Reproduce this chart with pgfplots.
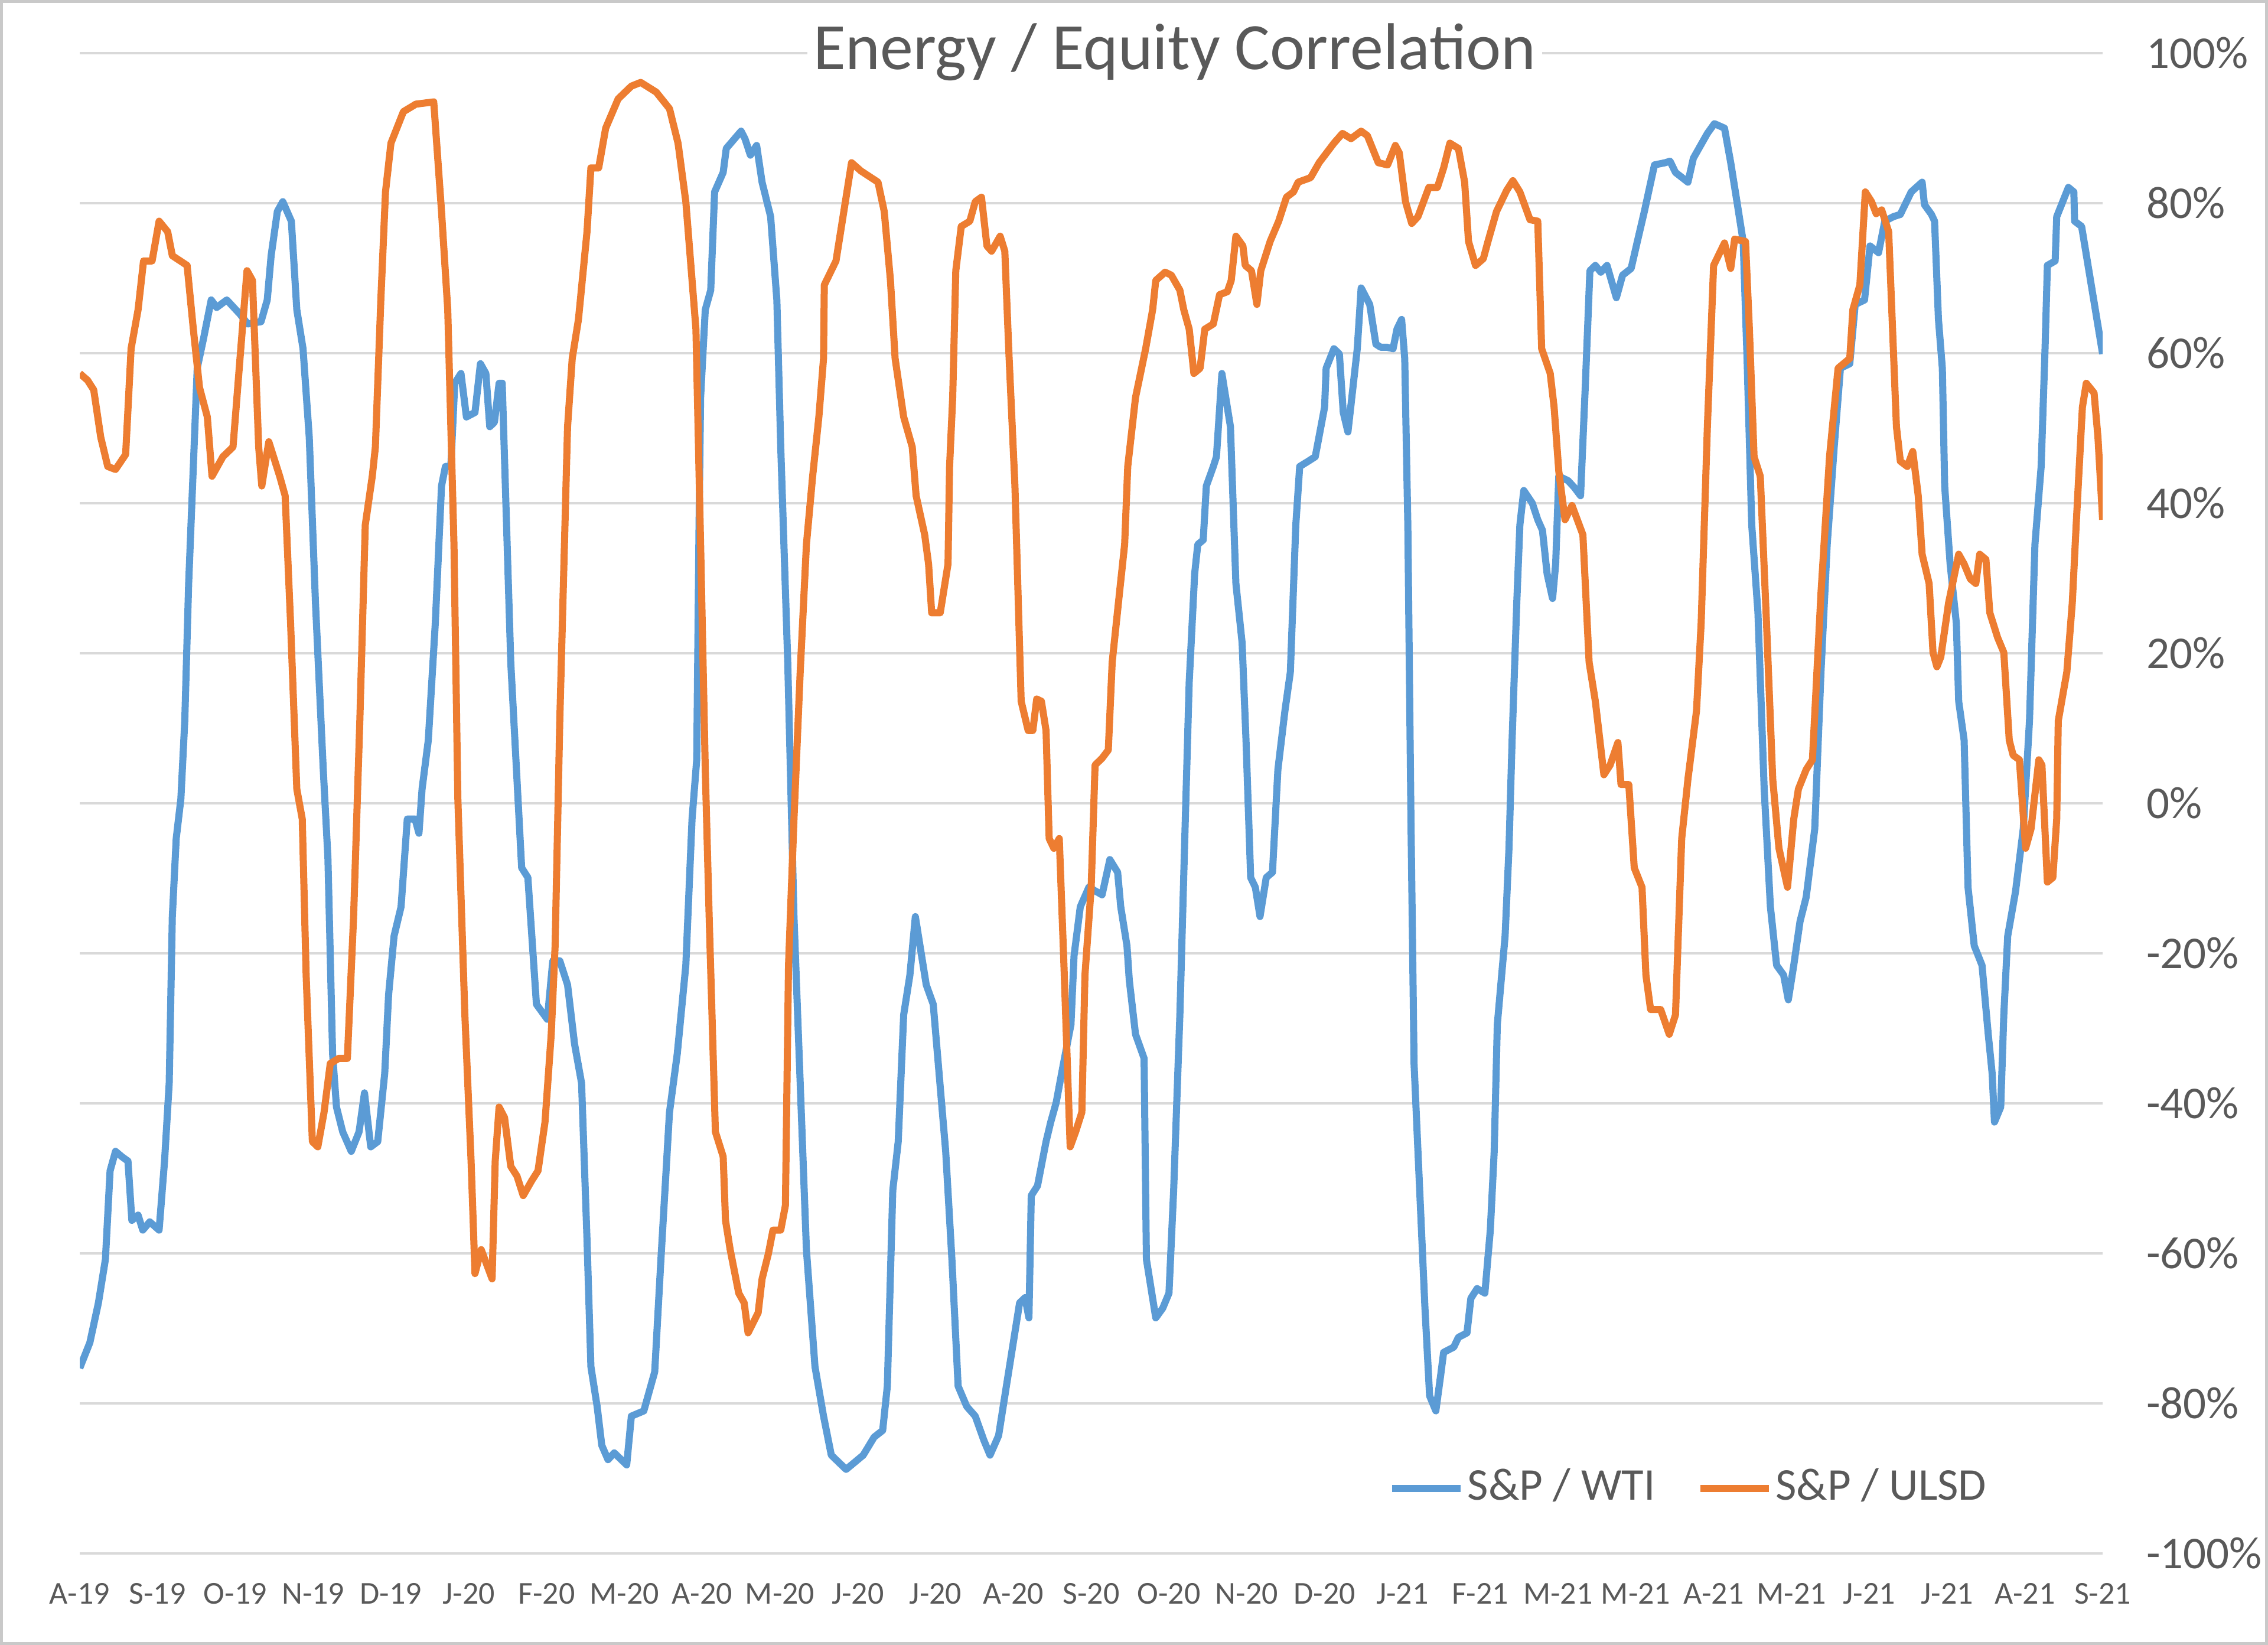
\documentclass[border=0pt]{standalone}
\usepackage{fontspec}
\setmainfont{Carlito}
\usepackage{pgfplots}
\pgfplotsset{compat=1.18}
\definecolor{wtiblue}{HTML}{5B9BD5}
\definecolor{ulsdorange}{HTML}{ED7D31}
\definecolor{txtgray}{HTML}{595959}
\definecolor{gridgray}{HTML}{D9D9D9}
\definecolor{framegray}{HTML}{C9C9C9}
\begin{document}
\begin{tikzpicture}
\path[use as bounding box] (0,0) rectangle (384pt,278.5pt);
\draw[framegray, line width=0.5pt] (0.25pt,0.25pt) rectangle (383.75pt,278.25pt);
\begin{axis}[
  at={(13.5pt,15.5pt)}, anchor=south west,
  scale only axis, width=342.5pt, height=254pt,
  xmin=0, xmax=26, ymin=-100, ymax=100,
  axis line style={draw=none},
  major tick length=0pt,
  xtick={0,...,26},
  xticklabels={A-19,S-19,O-19,N-19,D-19,J-20,F-20,M-20,A-20,M-20,J-20,J-20,A-20,S-20,O-20,N-20,D-20,J-21,F-21,M-21,M-21,A-21,M-21,J-21,J-21,A-21,S-21},
  ytick={-100,-80,-60,-40,-20,0,20,40,60,80,100},
  yticklabels={-100\%,-80\%,-60\%,-40\%,-20\%,0\%,20\%,40\%,60\%,80\%,100\%},
  yticklabel pos=right,
  ymajorgrids, grid style={gridgray, line width=0.4pt},
  xticklabel style={font=\fontsize{5.4}{6}\selectfont, text=txtgray, anchor=north, inner sep=0pt, yshift=-4.8pt},
  yticklabel style={font=\fontsize{7.7}{9}\selectfont, text=txtgray, anchor=west, inner sep=0pt, xshift=7.2pt},
  title={Energy / Equity Correlation},
  every axis title shift=0pt,
  title style={at={(0.5413,0.989)}, anchor=base, font=\fontsize{11.2}{13}\selectfont, text=txtgray, fill=white, inner sep=1pt},
  legend style={at={(0.6464,0.0433)}, anchor=west, draw=none, fill=none,
    font=\fontsize{7.7}{9}\selectfont, text=txtgray, inner sep=0pt,
    nodes={inner sep=0.6pt},
    /tikz/every even column/.append style={column sep=6.4pt}},
  legend columns=2,
  legend cell align=left,
  legend image code/.code={\draw[#1, line width=1.2pt] (0pt,0pt) -- (11.6pt,0pt);},
]
\addplot[wtiblue, line width=1.2pt, line join=round] table {
0.00 -75.3
0.13 -71.9
0.24 -66.6
0.33 -60.8
0.39 -49.0
0.46 -46.4
0.54 -47.1
0.62 -47.7
0.67 -55.6
0.75 -54.9
0.81 -56.9
0.90 -55.8
1.02 -56.9
1.09 -47.7
1.15 -37.3
1.19 -15.1
1.24 -4.7
1.30 0.6
1.35 11.0
1.40 29.3
1.46 44.9
1.51 58.0
1.59 61.9
1.69 67.1
1.76 66.1
1.89 67.1
2.06 65.2
2.16 63.9
2.33 64.2
2.41 67.1
2.46 73.0
2.54 78.9
2.61 80.2
2.72 77.6
2.79 65.8
2.87 60.6
2.95 48.8
3.03 26.7
3.13 4.5
3.19 -7.3
3.25 -33.4
3.30 -40.5
3.38 -43.8
3.49 -46.4
3.59 -43.8
3.66 -38.6
3.74 -45.8
3.83 -45.1
3.92 -36.0
3.97 -25.5
4.04 -17.7
4.13 -13.8
4.21 -2.1
4.31 -2.1
4.36 -4.0
4.40 1.9
4.48 8.4
4.57 24.0
4.65 42.3
4.70 44.9
4.77 44.9
4.82 56.0
4.90 57.3
4.97 51.5
5.08 52.1
5.15 58.6
5.22 57.3
5.27 50.2
5.33 50.8
5.39 56.0
5.43 56.0
5.54 18.8
5.68 -8.6
5.76 -9.9
5.87 -26.8
6.01 -28.8
6.08 -21.0
6.17 -21.0
6.27 -24.2
6.36 -32.1
6.45 -37.3
6.52 -58.2
6.57 -75.1
6.65 -80.4
6.71 -85.6
6.79 -87.5
6.87 -86.6
7.03 -88.2
7.09 -81.7
7.25 -81.0
7.39 -75.8
7.47 -60.8
7.58 -41.2
7.68 -33.4
7.79 -21.6
7.87 -2.1
7.93 5.8
7.96 37.1
7.98 54.1
8.04 65.8
8.11 68.4
8.16 81.5
8.27 84.1
8.31 87.3
8.50 89.6
8.55 88.6
8.62 86.4
8.70 87.7
8.77 82.8
8.88 78.2
8.96 67.1
9.01 47.5
9.10 18.8
9.18 -15.1
9.26 -37.3
9.34 -59.5
9.45 -75.1
9.56 -81.7
9.66 -86.9
9.85 -88.8
10.07 -86.9
10.21 -84.5
10.32 -83.6
10.38 -77.7
10.45 -51.6
10.52 -45.1
10.59 -28.2
10.67 -22.9
10.74 -15.1
10.80 -19.0
10.88 -24.2
10.97 -26.8
11.13 -46.4
11.21 -60.8
11.29 -77.7
11.40 -80.4
11.51 -81.7
11.62 -84.9
11.70 -86.9
11.81 -84.3
11.91 -77.7
12.08 -66.6
12.15 -65.9
12.20 -68.6
12.23 -52.3
12.31 -51.0
12.42 -45.1
12.48 -42.5
12.55 -39.9
12.62 -36.0
12.74 -29.5
12.78 -20.3
12.86 -13.8
12.97 -11.2
13.14 -12.2
13.24 -7.5
13.34 -9.2
13.38 -13.8
13.46 -19.0
13.49 -23.6
13.57 -30.8
13.68 -34.0
13.71 -60.8
13.83 -68.6
13.92 -67.3
14.00 -65.3
14.06 -51.6
14.14 -28.2
14.21 -2.1
14.26 16.2
14.33 30.6
14.37 34.5
14.44 35.1
14.48 42.3
14.57 44.9
14.61 46.2
14.68 57.3
14.79 50.2
14.86 29.3
14.94 21.4
14.99 8.4
15.05 -9.9
15.11 -11.2
15.17 -15.1
15.25 -9.9
15.33 -9.2
15.40 4.5
15.49 12.3
15.56 17.5
15.63 37.1
15.68 44.9
15.79 45.6
15.88 46.2
16.00 52.8
16.02 58.0
16.12 60.6
16.19 59.9
16.24 52.1
16.30 49.5
16.35 54.1
16.42 60.6
16.47 68.7
16.58 66.5
16.66 61.2
16.72 60.8
16.80 60.8
16.88 60.6
16.93 63.2
16.99 64.5
17.03 59.3
17.07 37.1
17.11 -2.1
17.15 -34.7
17.20 -46.4
17.29 -67.3
17.35 -79.0
17.43 -81.0
17.49 -76.4
17.53 -73.2
17.66 -72.5
17.72 -71.2
17.83 -70.6
17.88 -66.0
17.96 -64.7
18.06 -65.3
18.13 -56.9
18.18 -46.4
18.22 -29.5
18.32 -17.7
18.37 -6.0
18.41 8.4
18.47 26.7
18.51 37.1
18.56 41.7
18.67 40.0
18.74 37.8
18.80 36.4
18.86 30.6
18.93 27.3
18.97 31.9
19.01 43.6
19.13 43.0
19.21 42.1
19.29 41.0
19.35 55.4
19.41 71.0
19.48 71.7
19.55 70.8
19.63 71.7
19.75 67.4
19.83 70.4
19.94 71.3
20.02 74.9
20.11 78.9
20.24 85.1
20.38 85.4
20.44 85.6
20.51 84.1
20.67 82.8
20.74 86.0
20.92 89.3
21.01 90.6
21.14 90.0
21.22 85.4
21.30 80.2
21.38 74.9
21.43 59.3
21.49 37.1
21.57 25.4
21.65 1.9
21.73 -13.8
21.81 -21.6
21.90 -22.9
21.96 -26.2
22.03 -21.6
22.11 -15.8
22.19 -12.5
22.30 -3.4
22.38 17.5
22.46 34.5
22.55 47.5
22.63 58.0
22.75 58.6
22.82 66.5
22.94 67.1
23.01 74.3
23.12 73.4
23.20 77.6
23.31 78.2
23.40 78.5
23.54 81.5
23.68 82.8
23.71 79.8
23.80 78.5
23.84 77.6
23.89 64.5
23.94 58.0
23.97 42.3
24.04 31.9
24.12 24.0
24.15 13.6
24.22 8.4
24.27 -11.2
24.35 -19.0
24.45 -21.6
24.53 -30.8
24.58 -36.0
24.61 -42.5
24.69 -40.5
24.73 -28.2
24.78 -17.7
24.88 -11.8
24.98 -3.4
25.06 11.0
25.13 34.5
25.21 44.9
25.26 60.6
25.29 71.7
25.39 72.3
25.41 78.2
25.56 82.1
25.63 81.5
25.64 77.6
25.73 76.9
26.00 59.9
};
\addlegendentry{S\&P / WTI}
\addplot[ulsdorange, line width=1.2pt, line join=round] table {
0.00 57.3
0.10 56.4
0.18 55.1
0.27 48.8
0.36 44.9
0.46 44.5
0.59 46.5
0.66 60.6
0.75 65.8
0.82 72.3
0.93 72.3
1.02 77.6
1.13 76.2
1.19 73.0
1.38 71.7
1.46 63.2
1.54 55.4
1.64 51.5
1.70 43.6
1.84 46.2
1.97 47.5
2.06 59.3
2.15 71.0
2.22 69.7
2.30 47.5
2.34 42.3
2.43 48.2
2.57 43.6
2.64 41.0
2.71 24.0
2.79 1.9
2.86 -2.1
2.91 -22.9
2.99 -45.1
3.06 -45.8
3.14 -41.2
3.22 -34.7
3.33 -34.0
3.44 -34.0
3.52 -15.1
3.60 11.0
3.67 37.1
3.76 43.6
3.80 47.5
3.87 67.1
3.93 81.5
4.00 88.0
4.16 92.2
4.32 93.2
4.55 93.5
4.65 78.9
4.73 65.8
4.81 34.5
4.86 0.6
4.95 -28.2
5.03 -47.7
5.08 -62.7
5.16 -59.5
5.30 -63.4
5.34 -47.7
5.39 -40.5
5.46 -41.9
5.54 -48.4
5.62 -49.7
5.70 -52.3
5.81 -50.3
5.89 -49.0
5.98 -42.5
6.06 -30.8
6.11 -19.0
6.17 11.0
6.22 30.6
6.27 50.2
6.33 59.3
6.41 64.5
6.52 76.2
6.57 84.7
6.67 84.7
6.76 90.0
6.92 93.9
7.09 95.6
7.21 96.1
7.41 94.8
7.58 92.6
7.69 88.0
7.79 80.2
7.92 63.2
7.98 34.5
8.04 4.5
8.09 -15.1
8.17 -43.8
8.27 -47.1
8.30 -55.6
8.36 -59.5
8.47 -65.3
8.54 -66.6
8.59 -70.6
8.72 -67.9
8.77 -63.4
8.85 -60.1
8.91 -56.9
9.01 -56.9
9.07 -53.6
9.11 -21.6
9.18 -2.1
9.26 17.5
9.34 34.5
9.42 43.6
9.50 51.5
9.56 59.3
9.57 69.1
9.72 72.3
9.83 79.5
9.92 85.4
10.04 84.3
10.26 82.8
10.34 78.9
10.42 69.7
10.48 59.3
10.59 51.5
10.70 47.5
10.75 41.0
10.86 35.8
10.91 31.9
10.95 25.4
11.06 25.4
11.16 31.9
11.18 44.9
11.22 54.1
11.26 71.0
11.33 76.9
11.44 77.6
11.51 80.2
11.59 80.8
11.66 74.3
11.72 73.6
11.83 75.6
11.89 73.6
11.94 60.6
12.02 42.3
12.10 13.6
12.19 9.7
12.25 9.7
12.30 13.9
12.36 13.6
12.42 9.7
12.46 -4.7
12.52 -6.0
12.59 -4.7
12.65 -21.6
12.73 -45.8
12.80 -43.8
12.88 -41.2
12.92 -22.9
13.00 -11.2
13.05 5.1
13.14 6.0
13.22 7.1
13.27 18.8
13.35 26.7
13.43 34.5
13.47 44.9
13.57 54.1
13.70 60.6
13.79 65.8
13.83 69.7
13.95 70.8
14.03 70.4
14.14 68.4
14.19 65.8
14.26 63.2
14.32 57.3
14.40 58.0
14.46 63.2
14.57 63.9
14.65 67.8
14.75 68.2
14.80 69.7
14.86 75.6
14.95 74.3
14.98 71.7
15.06 71.0
15.13 66.5
15.18 71.0
15.30 74.9
15.41 77.6
15.51 80.8
15.60 81.5
15.66 82.8
15.82 83.4
15.93 85.4
16.12 88.0
16.23 89.3
16.34 88.6
16.47 89.6
16.55 89.0
16.69 85.4
16.81 85.1
16.91 87.7
16.96 86.7
17.04 80.2
17.12 77.3
17.20 78.2
17.34 82.1
17.45 82.1
17.53 84.7
17.61 88.0
17.72 87.3
17.80 82.8
17.85 74.9
17.94 71.7
18.04 72.6
18.10 74.9
18.21 78.9
18.34 81.7
18.42 83.0
18.51 81.5
18.64 77.8
18.74 77.6
18.79 60.6
18.90 57.3
18.95 52.8
19.01 44.3
19.09 37.8
19.18 39.7
19.32 35.8
19.40 18.8
19.48 13.6
19.59 3.8
19.67 5.1
19.77 8.1
19.81 2.5
19.91 2.5
19.98 -8.6
20.08 -11.2
20.13 -22.9
20.19 -27.5
20.32 -27.5
20.43 -30.8
20.51 -28.2
20.59 -4.7
20.67 3.2
20.78 12.3
20.84 24.0
20.92 50.2
21.00 71.7
21.14 74.7
21.22 71.3
21.27 75.2
21.41 74.9
21.46 63.2
21.52 46.2
21.60 43.6
21.68 24.0
21.76 3.2
21.84 -6.0
21.95 -11.2
22.03 -2.1
22.09 1.9
22.19 4.5
22.27 5.8
22.38 28.0
22.49 46.2
22.60 58.0
22.75 59.3
22.79 65.8
22.88 69.1
22.95 81.5
23.03 80.2
23.09 78.6
23.16 79.1
23.25 76.2
23.29 65.8
23.35 50.2
23.40 45.6
23.49 44.9
23.56 46.9
23.63 41.0
23.68 33.2
23.77 29.3
23.82 20.1
23.87 18.2
23.92 19.5
24.02 26.7
24.15 33.2
24.22 31.9
24.30 29.9
24.37 29.3
24.42 33.2
24.50 32.5
24.55 25.4
24.65 22.1
24.73 20.1
24.80 8.4
24.85 6.4
24.93 5.8
25.01 -6.0
25.08 -3.4
25.18 5.8
25.22 5.1
25.29 -10.5
25.36 -9.9
25.41 -2.1
25.43 11.0
25.54 17.5
25.61 26.7
25.66 37.1
25.74 52.8
25.79 56.0
25.89 54.7
25.94 48.8
26.00 37.8
};
\addlegendentry{S\&P / ULSD}
\end{axis}
\end{tikzpicture}
\end{document}
